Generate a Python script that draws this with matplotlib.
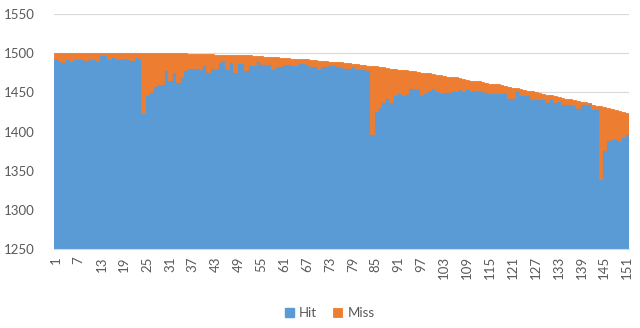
import numpy as np
import matplotlib.pyplot as plt

# Hit / miss counts for each of the 151 runs
runs = np.arange(1, 152)

hit = [1493, 1490, 1488, 1493, 1490, 1492, 1492, 1492, 1491, 1493,
       1493, 1490, 1497, 1498, 1492, 1495, 1493, 1494, 1494, 1493,
       1491, 1495, 1494, 1423, 1447, 1450, 1458, 1461, 1460, 1478,
       1466, 1476, 1463, 1469, 1478, 1481, 1481, 1481, 1480, 1485,
       1476, 1481, 1480, 1489, 1491, 1480, 1488, 1476, 1487, 1487,
       1479, 1485, 1485, 1490, 1486, 1486, 1486, 1480, 1484, 1484,
       1486, 1486, 1485, 1485, 1487, 1487, 1486, 1484, 1484, 1480,
       1484, 1484, 1485, 1485, 1483, 1482, 1481, 1481, 1483, 1480,
       1480, 1480, 1479, 1397, 1426, 1431, 1437, 1443, 1438, 1446,
       1449, 1446, 1448, 1455, 1455, 1454, 1447, 1449, 1453, 1456,
       1451, 1449, 1450, 1450, 1452, 1452, 1454, 1451, 1454, 1451,
       1453, 1453, 1452, 1450, 1449, 1449, 1449, 1449, 1449, 1443,
       1443, 1451, 1446, 1446, 1446, 1442, 1441, 1441, 1441, 1437,
       1441, 1437, 1439, 1435, 1435, 1435, 1434, 1430, 1435, 1435,
       1435, 1429, 1429, 1340, 1376, 1389, 1390, 1390, 1388, 1393,
       1397]

miss = [7, 10, 12, 7, 10, 8, 8, 8, 9, 7,
        7, 10, 3, 2, 8, 5, 7, 6, 6, 7,
        9, 5, 6, 77, 53, 50, 42, 39, 40, 22,
        34, 24, 37, 31, 22, 18, 18, 18, 19, 14,
        23, 18, 18, 9, 7, 18, 10, 22, 10, 10,
        18, 12, 11, 6, 10, 9, 9, 15, 11, 10,
        8, 8, 8, 8, 5, 5, 6, 7, 7, 10,
        6, 6, 4, 4, 5, 6, 6, 6, 3, 6,
        5, 5, 5, 86, 57, 51, 45, 38, 42, 34,
        30, 33, 30, 22, 22, 22, 28, 26, 21, 17,
        21, 23, 21, 20, 17, 17, 14, 16, 12, 14,
        12, 11, 11, 12, 12, 11, 11, 10, 9, 14,
        13, 4, 8, 7, 6, 9, 9, 8, 7, 10,
        5, 8, 5, 8, 7, 6, 6, 9, 3, 2,
        1, 5, 4, 92, 55, 41, 39, 38, 38, 32,
        27]

tick_runs = runs[::6]

blue = '#5B9BD5'
orange = '#ED7D31'
grey = '#595959'

plt.rcParams['font.family'] = ['Lato', 'DejaVu Sans']

fig = plt.figure(figsize=(6.4, 3.28), dpi=100)
ax = fig.add_axes([0.084, 0.240, 0.899, 0.718])

# no gap between bars; matching edges hide the antialiasing seams
ax.bar(runs, hit, width=1.0, color=blue, edgecolor=blue, linewidth=1.0,
       label='Hit', zorder=2)
ax.bar(runs, miss, width=1.0, bottom=hit, color=orange, edgecolor=orange,
       linewidth=0.6, label='Miss', zorder=2)

ax.set_xlim(0.5, 151.5)
ax.set_ylim(1250, 1550)
ax.set_yticks(np.arange(1250, 1551, 50))
ax.yaxis.grid(True, color='#D9D9D9', linewidth=0.8, zorder=0)
ax.set_axisbelow(True)

ax.set_xticks(tick_runs)
ax.set_xticklabels([str(r) for r in tick_runs], rotation=90)
ax.tick_params(axis='both', length=0, labelsize=9.5, colors=grey)
ax.tick_params(axis='y', pad=14)
ax.tick_params(axis='x', pad=5)

for side in ['top', 'right', 'left']:
    ax.spines[side].set_visible(False)
ax.spines['bottom'].set_color('#D9D9D9')

fig.legend(loc='center', bbox_to_anchor=(0.515, 0.045), ncol=2, frameon=False,
           fontsize=9.5, handlelength=0.7, handleheight=0.7, handletextpad=0.4,
           columnspacing=1.2, labelcolor=grey)

fig.savefig('out.png', dpi=100)
